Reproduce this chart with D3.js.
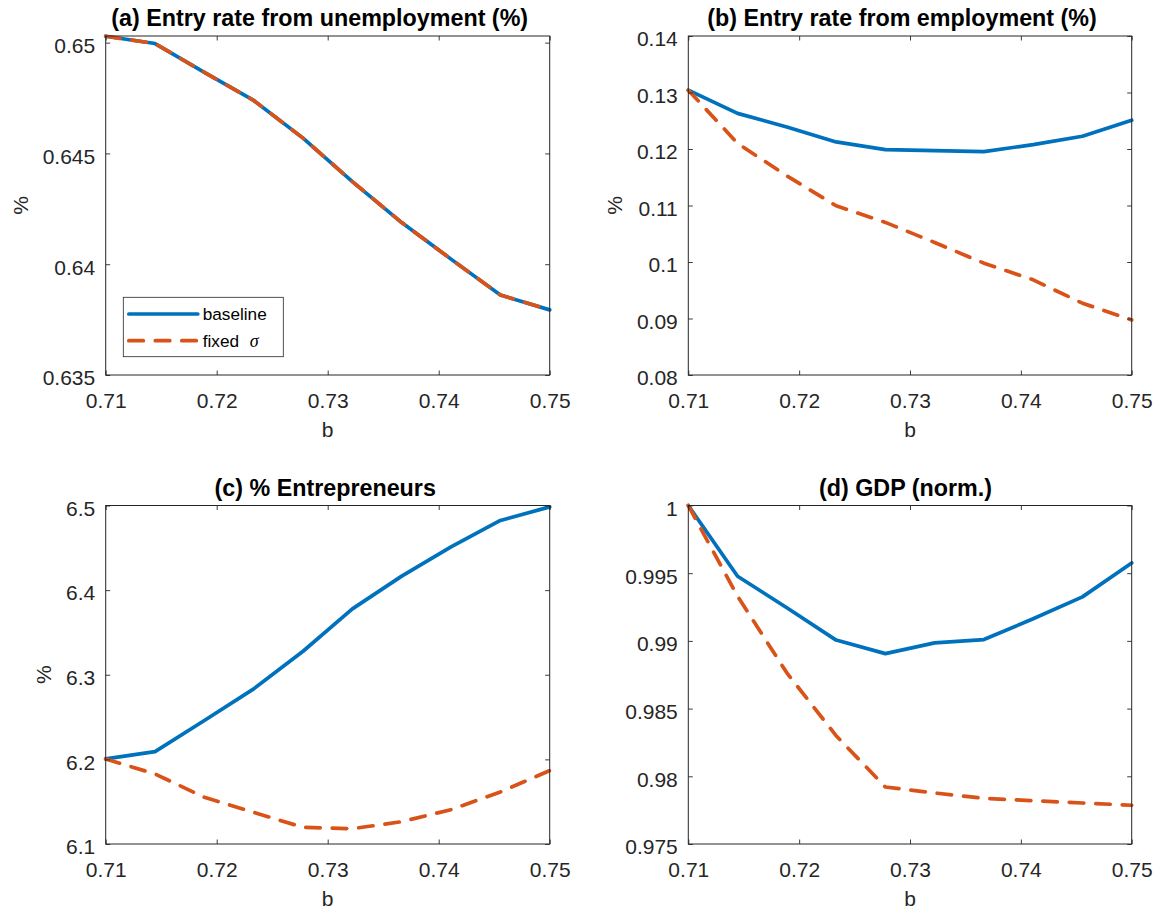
<!DOCTYPE html>
<html>
<head>
<meta charset="utf-8">
<script src="https://cdn.jsdelivr.net/npm/d3@7"></script>
<style>
  body { margin: 0; background: #ffffff; }
  svg { display: block; }
</style>
</head>
<body>
<svg id="fig" width="1162" height="914"></svg>
<script>
// Unemployment benefit grid (b) shared by all four panels
const bGrid = [0.71, 0.714444, 0.718889, 0.723333, 0.727778, 0.732222, 0.736667, 0.741111, 0.745556, 0.75];
const xTicks = [0.71, 0.72, 0.73, 0.74, 0.75];
const xTickLabels = ["0.71", "0.72", "0.73", "0.74", "0.75"];

// (a) Entry rate from unemployment (%)
const entryUnempBaseline = [0.65029, 0.64996, 0.64866, 0.64739, 0.64569, 0.64373, 0.64188, 0.64023, 0.63861, 0.63794];
const entryUnempFixed    = [0.65029, 0.64996, 0.64866, 0.64739, 0.64569, 0.64373, 0.64188, 0.64023, 0.63861, 0.63794];
const entryUnempLimits = [0.635, 0.6503];
const entryUnempTicks = [0.635, 0.64, 0.645, 0.65];
const entryUnempTickLabels = ["0.635", "0.64", "0.645", "0.65"];

// (b) Entry rate from employment (%)
const entryEmpBaseline = [0.13041, 0.12630, 0.12390, 0.12125, 0.11989, 0.11972, 0.11954, 0.12078, 0.12226, 0.12509];
const entryEmpFixed    = [0.13041, 0.12100, 0.11525, 0.10995, 0.10701, 0.10346, 0.09980, 0.09684, 0.09271, 0.08975];
const entryEmpLimits = [0.08, 0.14];
const entryEmpTicks = [0.08, 0.09, 0.10, 0.11, 0.12, 0.13, 0.14];
const entryEmpTickLabels = ["0.08", "0.09", "0.1", "0.11", "0.12", "0.13", "0.14"];

// (c) % Entrepreneurs
const entrepBaseline = [6.2005, 6.2092, 6.2460, 6.2833, 6.3278, 6.3778, 6.4165, 6.4511, 6.4823, 6.4984];
const entrepFixed    = [6.2005, 6.1828, 6.1552, 6.1374, 6.1197, 6.1181, 6.1264, 6.1406, 6.1615, 6.1867];
const entrepLimits = [6.1, 6.5];
const entrepTicks = [6.1, 6.2, 6.3, 6.4, 6.5];
const entrepTickLabels = ["6.1", "6.2", "6.3", "6.4", "6.5"];

// (d) GDP (normalised)
const gdpBaseline = [1.0, 0.99477, 0.99245, 0.99006, 0.98906, 0.98985, 0.99010, 0.99163, 0.99325, 0.99576];
const gdpFixed    = [1.0, 0.99330, 0.98764, 0.98300, 0.97921, 0.97877, 0.97837, 0.97820, 0.97803, 0.97786];
const gdpLimits = [0.975, 1.0];
const gdpTicks = [0.975, 0.98, 0.985, 0.99, 0.995, 1.0];
const gdpTickLabels = ["0.975", "0.98", "0.985", "0.99", "0.995", "1"];

const seriesNames = ["baseline", "fixed"];

const BLUE = "#0072BD";
const ORANGE = "#D95319";
const INK = "#262626";
const FONT = "'Liberation Sans', Arial, Helvetica, sans-serif";

const svg = d3.select("#fig");

const panels = [
  { title: "(a) Entry rate from unemployment (%)", titleDx: -8, left: 105.7, top: 36, width: 444, height: 339,
    base: entryUnempBaseline, fixed: entryUnempFixed, limits: entryUnempLimits,
    ticks: entryUnempTicks, tickLabels: entryUnempTickLabels, ylabel: "%", legend: true },
  { title: "(b) Entry rate from employment (%)", titleDx: -8, left: 688.3, top: 36, width: 443.4, height: 339,
    base: entryEmpBaseline, fixed: entryEmpFixed, limits: entryEmpLimits,
    ticks: entryEmpTicks, tickLabels: entryEmpTickLabels, ylabel: "%", legend: false },
  { title: "(c) % Entrepreneurs", titleDx: -2.5, left: 105.7, top: 505.5, width: 444, height: 338.5,
    base: entrepBaseline, fixed: entrepFixed, limits: entrepLimits,
    ticks: entrepTicks, tickLabels: entrepTickLabels, ylabel: "%", legend: false },
  { title: "(d) GDP (norm.)", titleDx: -4.5, left: 688.3, top: 505.5, width: 443.4, height: 338.5,
    base: gdpBaseline, fixed: gdpFixed, limits: gdpLimits,
    ticks: gdpTicks, tickLabels: gdpTickLabels, ylabel: null, legend: false }
];

const TICK = 4.5;
const LINE_W = 3.7;
const DASH = "14.5,12";

function styleAxis(g) {
  g.attr("font-family", FONT).attr("font-size", 21);
  g.select(".domain").remove();
  g.selectAll(".tick line").attr("stroke", INK).attr("stroke-width", 0.9);
  g.selectAll(".tick text").attr("fill", INK);
}

panels.forEach(p => {
  const g = svg.append("g").attr("transform", `translate(${p.left},${p.top})`);

  const x = d3.scaleLinear().domain([bGrid[0], bGrid[bGrid.length - 1]]).range([0, p.width]);
  const y = d3.scaleLinear().domain(p.limits).range([p.height, 0]);

  g.append("rect").attr("width", p.width).attr("height", p.height).attr("fill", "#fff");

  // baseline (solid) first, fixed sigma (dashed) drawn over it
  const line = d3.line().x((d, i) => x(bGrid[i])).y(d => y(d));
  const clipId = "clip-" + p.title.charAt(1);
  g.append("clipPath").attr("id", clipId).append("rect")
    .attr("x", -3).attr("y", -3).attr("width", p.width + 6).attr("height", p.height + 6);

  const plot = g.append("g").attr("clip-path", `url(#${clipId})`);
  plot.append("path").datum(p.base)
    .attr("d", line).attr("fill", "none").attr("stroke", BLUE)
    .attr("stroke-width", LINE_W).attr("stroke-linejoin", "round").attr("stroke-linecap", "round");
  plot.append("path").datum(p.fixed)
    .attr("d", line).attr("fill", "none").attr("stroke", ORANGE)
    .attr("stroke-width", LINE_W).attr("stroke-linejoin", "round").attr("stroke-linecap", "round")
    .attr("stroke-dasharray", DASH);

  // bottom axis with labels, inward ticks
  const xb = g.append("g").attr("transform", `translate(0,${p.height})`)
    .call(d3.axisBottom(x).tickValues(xTicks).tickFormat((d, i) => xTickLabels[i])
      .tickSizeInner(-TICK).tickSizeOuter(0));
  styleAxis(xb);
  xb.selectAll(".tick text").attr("y", 33.3).attr("dy", 0);

  // top axis, ticks only
  const xt = g.append("g").call(d3.axisTop(x).tickValues(xTicks).tickFormat("")
    .tickSizeInner(-TICK).tickSizeOuter(0));
  styleAxis(xt);

  // left axis with labels
  const yl = g.append("g")
    .call(d3.axisLeft(y).tickValues(p.ticks).tickFormat((d, i) => p.tickLabels[i])
      .tickSizeInner(-TICK).tickSizeOuter(0));
  styleAxis(yl);
  yl.selectAll(".tick text").attr("x", -10.5).attr("dy", 9.8);

  // right axis, ticks only
  const yr = g.append("g").attr("transform", `translate(${p.width},0)`)
    .call(d3.axisRight(y).tickValues(p.ticks).tickFormat("")
      .tickSizeInner(-TICK).tickSizeOuter(0));
  styleAxis(yr);

  // axes box
  g.append("rect").attr("width", p.width).attr("height", p.height)
    .attr("fill", "none").attr("stroke", INK).attr("stroke-width", 1);

  // title
  g.append("text").attr("x", p.width / 2 + p.titleDx).attr("y", -10)
    .attr("text-anchor", "middle").attr("font-family", FONT)
    .attr("font-weight", "bold").attr("font-size", 23.3).attr("fill", "#000")
    .text(p.title);

  // x label
  g.append("text").attr("x", p.width / 2).attr("y", p.height + 62)
    .attr("text-anchor", "middle").attr("font-family", FONT)
    .attr("font-size", 21).attr("fill", INK).text("b");

  // y label, just left of the widest tick label
  if (p.ylabel) {
    let minX = 0;
    yl.selectAll(".tick text").each(function () {
      const bb = this.getBBox();
      minX = Math.min(minX, bb.x);
    });
    const lx = minX - 15;
    g.append("text").attr("transform", `translate(${lx},${p.height / 2}) rotate(-90)`)
      .attr("text-anchor", "middle").attr("font-family", FONT)
      .attr("font-size", 21).attr("fill", INK).text(p.ylabel);
  }

  // legend
  if (p.legend) {
    const lg = g.append("g").attr("transform", "translate(17.6,261.3)");
    lg.append("rect").attr("width", 160).attr("height", 59.4)
      .attr("fill", "#fff").attr("stroke", INK).attr("stroke-width", 0.8);
    const rows = [
      { name: seriesNames[0], color: BLUE, dash: null, y: 16.7 },
      { name: seriesNames[1], color: ORANGE, dash: DASH, y: 43.4 }
    ];
    rows.forEach(r => {
      lg.append("line").attr("x1", 5.5).attr("x2", 74.5).attr("y1", r.y).attr("y2", r.y)
        .attr("stroke", r.color).attr("stroke-width", LINE_W).attr("stroke-linecap", "round")
        .attr("stroke-dasharray", r.dash);
      const t = lg.append("text").attr("x", 79.4).attr("y", r.y).attr("dy", "0.35em")
        .attr("font-family", FONT).attr("font-size", 17.2).attr("fill", "#000");
      if (r.name === "fixed") {
        t.append("tspan").text("fixed");
        t.append("tspan").attr("x", 126.5).attr("font-family", "'Liberation Serif', 'Times New Roman', serif")
          .attr("font-style", "italic").attr("font-size", 18).text("σ");
      } else {
        t.text(r.name);
      }
    });
  }
});
</script>
</body>
</html>
